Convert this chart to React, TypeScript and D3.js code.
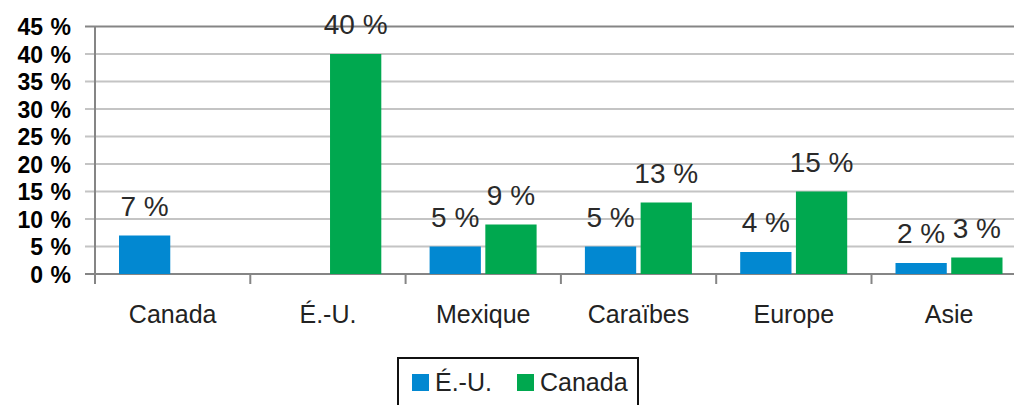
import React from "react";
import * as d3 from "d3";

const categories = ["Canada", "É.-U.", "Mexique", "Caraïbes", "Europe", "Asie"];
const seriesNames = ["É.-U.", "Canada"];
const valuesEU = [7, 0, 5, 5, 4, 2];
const valuesCanada = [0, 40, 9, 13, 15, 3];
const yTicks = [0, 5, 10, 15, 20, 25, 30, 35, 40, 45];
const colors = ["#0288D1", "#00A84F"];

const W = 1014;
const H = 405;
const left = 95;
const step = 155.3;
const top = 26.5;
const bottom = 274;

export default function App() {
  const x = d3
    .scaleBand<string>()
    .domain(categories)
    .range([left, left + step * categories.length])
    .padding(0);
  const xs = d3
    .scaleBand<string>()
    .domain(seriesNames)
    .range([24, 131])
    .paddingInner(0.08);
  const y = d3.scaleLinear().domain([0, 45]).range([bottom, top]);
  const series = [valuesEU, valuesCanada];
  const fmt = (v: number) => `${v} %`;
  const font = "Liberation Sans, Arial, sans-serif";

  return (
    <svg
      width={W}
      height={H}
      style={{ position: "absolute", left: 0, top: 0, background: "#fff" }}
    >
      {/* gridlines */}
      {yTicks.map((t) => (
        <line
          key={"g" + t}
          x1={left - 10}
          x2={W}
          y1={y(t)}
          y2={y(t)}
          stroke={t === 45 || t === 0 ? "#858585" : "#C4C4C4"}
          strokeWidth={2}
        />
      ))}
      {/* y axis */}
      <line x1={left} x2={left} y1={y(45)} y2={bottom + 10} stroke="#858585" strokeWidth={2} />
      {/* category ticks */}
      {categories.map((c, i) =>
        i === 0 ? null : (
          <line
            key={"ct" + c}
            x1={x(c)!}
            x2={x(c)!}
            y1={bottom}
            y2={bottom + 10}
            stroke="#858585"
            strokeWidth={2}
          />
        )
      )}
      {/* y tick labels */}
      {yTicks.map((t) => (
        <g key={"yl" + t} fontFamily={font} fontWeight="bold" fontSize={23} fill="#000">
          <text x={43} y={y(t) + 8.5} textAnchor="end">
            {t}
          </text>
          <text x={71} y={y(t) + 8.5} textAnchor="end">
            %
          </text>
        </g>
      ))}
      {/* bars */}
      {categories.map((c, i) =>
        series.map((vals, s) =>
          vals[i] > 0 ? (
            <rect
              key={c + s}
              x={x(c)! + xs(seriesNames[s])!}
              y={y(vals[i])}
              width={xs.bandwidth()}
              height={bottom - y(vals[i])}
              fill={colors[s]}
            />
          ) : null
        )
      )}
      {/* value labels */}
      {categories.map((c, i) =>
        series.map((vals, s) =>
          vals[i] > 0 ? (
            <text
              key={"v" + c + s}
              x={x(c)! + xs(seriesNames[s])! + xs.bandwidth() / 2}
              y={y(vals[i]) - 20}
              textAnchor="middle"
              fontFamily={font}
              fontSize={28}
              fill="#2a2a2a"
            >
              {fmt(vals[i])}
            </text>
          ) : null
        )
      )}
      {/* category labels */}
      {categories.map((c) => (
        <text
          key={"cl" + c}
          x={x(c)! + x.bandwidth() / 2}
          y={323}
          textAnchor="middle"
          fontFamily={font}
          fontSize={25}
          fill="#222"
        >
          {c}
        </text>
      ))}
      {/* legend */}
      <rect x={398} y={358} width={240} height={70} fill="none" stroke="#111" strokeWidth={2} />
      {seriesNames.map((n, i) => {
        const lx = i === 0 ? 412 : 517;
        return (
          <g key={"lg" + n}>
            <rect x={lx} y={374} width={17} height={17} fill={colors[i]} />
            <text x={lx + 23} y={391} fontFamily={font} fontSize={25} fill="#222">
              {n}
            </text>
          </g>
        );
      })}
    </svg>
  );
}
